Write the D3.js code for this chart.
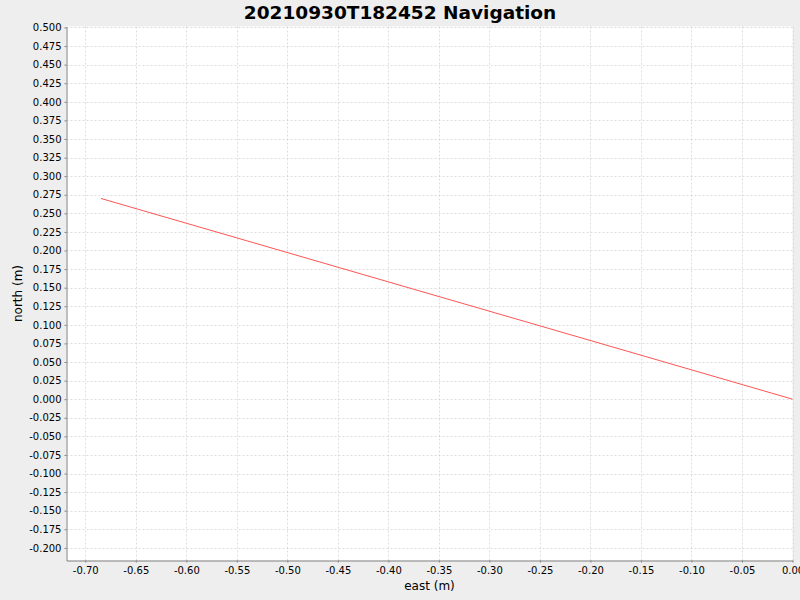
<!DOCTYPE html>
<html><head><meta charset="utf-8">
<script src="https://cdn.jsdelivr.net/npm/d3@7"></script>
<style>body{margin:0;background:#eeeeee;}svg{display:block;}</style>
</head><body>
<svg id="c" width="800" height="600"></svg>
<script>
const titleText = "20210930T182452 Navigation";
const xLabel = "east (m)";
const yLabel = "north (m)";
const eastValues = [-0.6845, 0.0];
const northValues = [0.270, 0.0];
const xTicks = [-0.70,-0.65,-0.60,-0.55,-0.50,-0.45,-0.40,-0.35,-0.30,-0.25,-0.20,-0.15,-0.10,-0.05,0.00];
const yTicks = [0.500,0.475,0.450,0.425,0.400,0.375,0.350,0.325,0.300,0.275,0.250,0.225,0.200,0.175,0.150,0.125,0.100,0.075,0.050,0.025,0.000,-0.025,-0.050,-0.075,-0.100,-0.125,-0.150,-0.175,-0.200];

const svg = d3.select("#c");
const L = 66.5, R = 792.5, T = 26.5, B = 560.5;
const x = d3.scaleLinear().domain([-0.7186, 0.0]).range([L, R]);
const y = d3.scaleLinear().domain([-0.2170, 0.5013]).range([B, T]);

svg.append("rect").attr("width",800).attr("height",600).attr("fill","#eeeeee");
svg.append("rect").attr("x",L).attr("y",T).attr("width",R-L).attr("height",B-T).attr("fill","#ffffff");

const grid = svg.append("g").attr("stroke","#cfcfcf").attr("stroke-width",0.7).attr("stroke-dasharray","2,2");
xTicks.forEach(t=>grid.append("line").attr("x1",Math.round(x(t))+0.5).attr("x2",Math.round(x(t))+0.5).attr("y1",T).attr("y2",B));
yTicks.forEach(t=>grid.append("line").attr("y1",Math.round(y(t))+0.5).attr("y2",Math.round(y(t))+0.5).attr("x1",L).attr("x2",R));

const xAxis = d3.axisBottom(x).tickValues(xTicks).tickFormat(d3.format(".2f")).tickSizeInner(2).tickSizeOuter(0).tickPadding(4);
const yAxis = d3.axisLeft(y).tickValues(yTicks).tickFormat(d3.format(".3f")).tickSizeInner(2).tickSizeOuter(0).tickPadding(3);
const gx = svg.append("g").attr("transform",`translate(0,${B})`).call(xAxis);
const gy = svg.append("g").attr("transform",`translate(${L},0)`).call(yAxis);
[gx,gy].forEach(g=>{
  g.select(".domain").attr("stroke","#808080");
  g.selectAll(".tick line").attr("stroke","#808080");
  g.selectAll(".tick text").attr("fill","#000").style("font-family","DejaVu Sans").style("font-size","10px");
});
gx.selectAll(".tick text").text(d=>d3.format(".2f")(d).replace("−","-"));
gy.selectAll(".tick text").text(d=>d3.format(".3f")(d).replace("−","-"));

const line = d3.line().x((d,i)=>x(eastValues[i])).y((d,i)=>y(northValues[i]));
svg.append("path").datum(eastValues).attr("d",line).attr("fill","none").attr("stroke","#ff5555").attr("stroke-width",1);

svg.append("text").attr("x",400).attr("y",19).attr("text-anchor","middle")
  .style("font-family","DejaVu Sans").style("font-weight","bold").style("font-size","18.5px").text(titleText);
svg.append("text").attr("x",(L+R)/2).attr("y",590).attr("text-anchor","middle")
  .style("font-family","DejaVu Sans").style("font-size","12px").text(xLabel);
svg.append("text").attr("transform",`translate(22,${(T+B)/2}) rotate(-90)`).attr("text-anchor","middle")
  .style("font-family","DejaVu Sans").style("font-size","12px").text(yLabel);
</script>
</body></html>
